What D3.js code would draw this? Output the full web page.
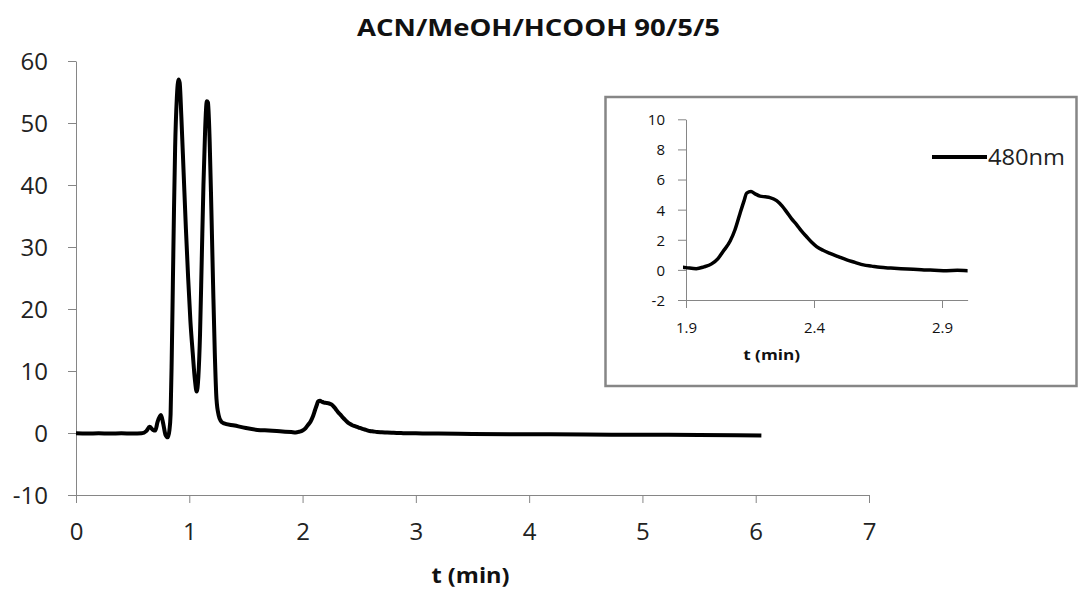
<!DOCTYPE html>
<html>
<head>
<meta charset="utf-8">
<script src="https://cdn.jsdelivr.net/npm/d3@7"></script>
<style>
  body { margin: 0; background: #fff; }
  svg { display: block; font-family: "Open Sans", sans-serif; }
</style>
</head>
<body>
<div id="chart"></div>
<script>
const tiempo = [0, 0.10, 0.20, 0.30, 0.40, 0.50, 0.58, 0.62, 0.65, 0.68, 0.70, 0.72, 0.75, 0.77, 0.79, 0.81,
  0.825, 0.835, 0.845, 0.855, 0.865, 0.875, 0.89, 0.905, 0.915, 0.93, 0.95, 0.97, 0.99, 1.01, 1.03, 1.05,
  1.065, 1.08, 1.095, 1.11, 1.125, 1.14, 1.155, 1.165, 1.18, 1.195, 1.21, 1.225, 1.24, 1.26, 1.28, 1.30,
  1.40, 1.50, 1.60, 1.70, 1.80, 1.90, 1.94, 1.97, 2.00, 2.025, 2.046, 2.072, 2.091, 2.111, 2.127, 2.137,
  2.154, 2.17, 2.189, 2.21, 2.228, 2.254, 2.275, 2.293, 2.312, 2.332, 2.35, 2.371, 2.39, 2.41, 2.435,
  2.4625, 2.495, 2.528, 2.56, 2.593, 2.625, 2.658, 2.70, 2.74, 2.788, 2.83, 2.87, 2.918, 2.96, 3.0,
  3.2, 3.5, 4.0, 4.5, 5.0, 5.5, 6.05];
const senal = [-0.05, -0.08, -0.05, -0.10, -0.06, -0.08, -0.05, 0.3, 1.0, 0.5, 0.4, 1.8, 2.9, 1.5, -0.3, -0.7,
  0.5, 3, 12, 24, 36, 46, 54, 57, 56.5, 51, 42, 33, 25, 18, 13, 8.5,
  6.7, 9, 16, 28, 40, 49, 53.5, 53.3, 47, 36, 24, 13, 5.5, 2.8, 1.9, 1.6,
  1.2, 0.8, 0.5, 0.4, 0.3, 0.15, 0.08, 0.2, 0.4, 0.75, 1.25, 1.9, 2.65, 3.75, 4.6, 5.1,
  5.2, 5.05, 4.9, 4.85, 4.8, 4.6, 4.25, 3.85, 3.4, 3.0, 2.6, 2.2, 1.85, 1.55, 1.3,
  1.1, 0.88, 0.66, 0.5, 0.33, 0.25, 0.17, 0.12, 0.08, 0.04, 0.0, -0.02, -0.05, -0.03, -0.05,
  -0.1, -0.15, -0.2, -0.25, -0.28, -0.32, -0.4];

const ticksX = [0, 1, 2, 3, 4, 5, 6, 7];
const ticksY = [-10, 0, 10, 20, 30, 40, 50, 60];
const ticksXInset = [1.9, 2.4, 2.9];
const ticksYInset = [-2, 0, 2, 4, 6, 8, 10];
const titulo = "ACN/MeOH/HCOOH 90/5/5";
const serie = "480nm";

const datos = tiempo.map((t, i) => ({ t: t, v: senal[i] }));

const width = 1079, height = 590;
const gris = "#868686";
const etiqueta = d => String(d); // guion normal como en Excel

const svg = d3.select("#chart").append("svg")
  .attr("width", width)
  .attr("height", height);

// --- grafico principal ---
const x = d3.scaleLinear().domain([0, 7]).range([76, 869]);
const y = d3.scaleLinear().domain([-10, 60]).range([495, 61]);

const ejeY = svg.append("g")
  .attr("transform", "translate(76,0)")
  .call(d3.axisLeft(y).tickValues(ticksY).tickSize(8).tickSizeOuter(0).tickPadding(20)
    .tickFormat(etiqueta));
const ejeX = svg.append("g")
  .attr("transform", "translate(0,495)")
  .call(d3.axisBottom(x).tickValues(ticksX).tickSize(8).tickSizeOuter(0).tickPadding(20)
    .tickFormat(etiqueta));

[ejeY, ejeX].forEach(g => {
  g.select(".domain").attr("stroke", gris);
  g.selectAll(".tick line").attr("stroke", gris);
  g.selectAll(".tick text")
    .attr("fill", "#222")
    .style("font-size", "24px")
    .style("font-family", "'Open Sans', sans-serif");
});
ejeY.selectAll(".tick text").attr("dy", "0.36em");
ejeX.selectAll(".tick text").attr("dy", "0.70em");

const linea = d3.line()
  .x(d => x(d.t))
  .y(d => y(d.v))
  .curve(d3.curveMonotoneX);

svg.append("path")
  .datum(datos)
  .attr("fill", "none")
  .attr("stroke", "#000")
  .attr("stroke-width", 4)
  .attr("stroke-linejoin", "round")
  .attr("d", linea);

svg.append("text")
  .attr("x", 538.5).attr("y", 36)
  .attr("text-anchor", "middle")
  .attr("textLength", 363).attr("lengthAdjust", "spacingAndGlyphs")
  .style("font-size", "23px").style("font-weight", "bold")
  .attr("fill", "#111")
  .text(titulo);

svg.append("text")
  .attr("x", 470.5).attr("y", 583)
  .attr("text-anchor", "middle")
  .attr("textLength", 78).attr("lengthAdjust", "spacingAndGlyphs")
  .style("font-size", "22px").style("font-weight", "bold")
  .attr("fill", "#111")
  .text("t (min)");

// --- recuadro (zoom del segundo pico) ---
svg.append("rect")
  .attr("x", 605.5).attr("y", 97)
  .attr("width", 471).attr("height", 289)
  .attr("fill", "#fff")
  .attr("stroke", gris)
  .attr("stroke-width", 2.5);

const xi = d3.scaleLinear().domain([1.9, 3.0]).range([686, 967.6]);
const yi = d3.scaleLinear().domain([-2, 10]).range([300, 119.3]);

const ejeYi = svg.append("g")
  .attr("transform", "translate(686,0)")
  .call(d3.axisLeft(yi).tickValues(ticksYInset).tickSize(8).tickSizeOuter(0).tickPadding(13)
    .tickFormat(etiqueta));
const ejeXi = svg.append("g")
  .attr("transform", "translate(0,300)")
  .call(d3.axisBottom(xi).tickValues(ticksXInset).tickSize(8).tickSizeOuter(0).tickPadding(14)
    .tickFormat(d3.format(".1f")));

[ejeYi, ejeXi].forEach(g => {
  g.select(".domain").attr("stroke", gris);
  g.selectAll(".tick line").attr("stroke", gris);
  g.selectAll(".tick text")
    .attr("fill", "#111")
    .style("font-size", "15px")
    .style("font-family", "'Open Sans', sans-serif");
});
ejeYi.selectAll(".tick text").attr("dy", "0.36em");
ejeXi.selectAll(".tick text").attr("dy", "0.70em");

svg.append("clipPath").attr("id", "clipInset")
  .append("rect")
  .attr("x", xi(1.9) - 3).attr("y", yi(10))
  .attr("width", xi(3.0) - xi(1.9) + 3).attr("height", yi(-2) - yi(10));

const lineaInset = d3.line()
  .x(d => xi(d.t))
  .y(d => yi(d.v))
  .curve(d3.curveMonotoneX);

svg.append("path")
  .datum(datos.filter(d => d.t >= 1.8 && d.t <= 3.2))
  .attr("clip-path", "url(#clipInset)")
  .attr("fill", "none")
  .attr("stroke", "#000")
  .attr("stroke-width", 3.5)
  .attr("stroke-linejoin", "round")
  .attr("d", lineaInset);

svg.append("text")
  .attr("x", 771.7).attr("y", 360)
  .attr("text-anchor", "middle")
  .attr("textLength", 57).attr("lengthAdjust", "spacingAndGlyphs")
  .style("font-size", "15px").style("font-weight", "bold")
  .attr("fill", "#111")
  .text("t (min)");

// leyenda
svg.append("line")
  .attr("x1", 932).attr("x2", 987)
  .attr("y1", 157).attr("y2", 157)
  .attr("stroke", "#000").attr("stroke-width", 4);
svg.append("text")
  .attr("x", 988).attr("y", 164.5)
  .attr("textLength", 77).attr("lengthAdjust", "spacingAndGlyphs")
  .style("font-size", "21px")
  .attr("fill", "#222")
  .text(serie);
</script>
</body>
</html>
